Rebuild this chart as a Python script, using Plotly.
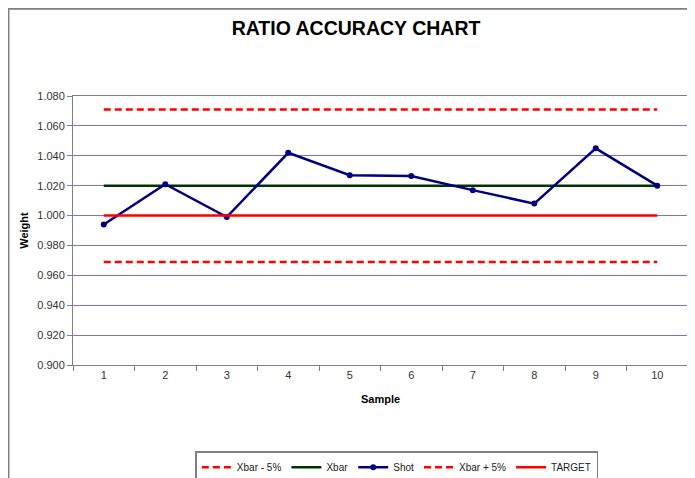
import plotly.graph_objects as go

samples = ["1", "2", "3", "4", "5", "6", "7", "8", "9", "10"]
shot = [0.994, 1.021, 0.999, 1.042, 1.027, 1.0265, 1.017, 1.008, 1.045, 1.020]
xbar = [1.020] * 10
xbar_minus = [0.969] * 10
xbar_plus = [1.071] * 10
target = [1.000] * 10
y_ticks = [0.900, 0.920, 0.940, 0.960, 0.980, 1.000, 1.020, 1.040, 1.060, 1.080]

fig = go.Figure()
fig.add_trace(go.Scatter(x=samples, y=xbar_minus, mode="lines", name="Xbar - 5%",
                         line=dict(color="#FF0000", width=2.5, dash="7px,4px")))
fig.add_trace(go.Scatter(x=samples, y=xbar, mode="lines", name="Xbar",
                         line=dict(color="#003300", width=2.5)))
fig.add_trace(go.Scatter(x=samples, y=shot, mode="lines+markers", name="Shot",
                         line=dict(color="#000080", width=2.5),
                         marker=dict(color="#000080", size=6, symbol="circle")))
fig.add_trace(go.Scatter(x=samples, y=xbar_plus, mode="lines", name="Xbar + 5%",
                         line=dict(color="#FF0000", width=2.5, dash="7px,4px")))
fig.add_trace(go.Scatter(x=samples, y=target, mode="lines", name="TARGET",
                         line=dict(color="#FF0000", width=2.5)))

# The page body adds an 8px offset, so the figure is sized to the visible area.
fig.update_layout(
    width=687, height=470,
    margin=dict(l=65, r=7, t=88, b=113, autoexpand=False),
    paper_bgcolor="white", plot_bgcolor="white",
    font=dict(family="Liberation Sans, Arial, sans-serif", size=11, color="#222222"),
    title=dict(text="<b>RATIO ACCURACY CHART</b>", x=0.5066, y=0.957,
               xanchor="center", yanchor="middle", xref="container", yref="container",
               font=dict(size=19.5, color="#000000")),
    xaxis=dict(type="category", tickson="boundaries", ticks="outside", ticklen=5,
               tickcolor="#808080", showline=True, linecolor="#808080", linewidth=1,
               mirror=True, showgrid=False, range=[-0.5, 9.5], automargin=False,
               title=dict(text="<b>Sample</b>", standoff=15, font=dict(size=11, color="#000000")),
               tickfont=dict(size=11, color="#333333")),
    yaxis=dict(range=[0.900, 1.080], tickvals=y_ticks, tickformat=".3f",
               ticks="outside", ticklen=5, tickcolor="#808080", automargin=False,
               showline=True, linecolor="#808080", linewidth=1, mirror=True,
               showgrid=True, gridcolor="#6F6FFF", gridwidth=1, zeroline=False,
               title=dict(text="<b>Weight</b>", standoff=6, font=dict(size=11, color="#000000")),
               tickfont=dict(size=11, color="#333333")),
    legend=dict(orientation="h", xref="container", yref="container",
                x=0.566, xanchor="center", y=0.057, yanchor="top",
                bordercolor="#808080", borderwidth=1.5, bgcolor="white",
                font=dict(size=10, color="#222222"), itemwidth=30, tracegroupgap=0),
    showlegend=True,
)

fig.add_shape(type="rect", xref="paper", yref="paper",
              x0=-0.1049, x1=1.2, y0=-0.6, y1=1.0 + 87.5 / 270,
              line=dict(color="#808080", width=2), fillcolor="rgba(0,0,0,0)", layer="below")

fig.write_html("out.html")
